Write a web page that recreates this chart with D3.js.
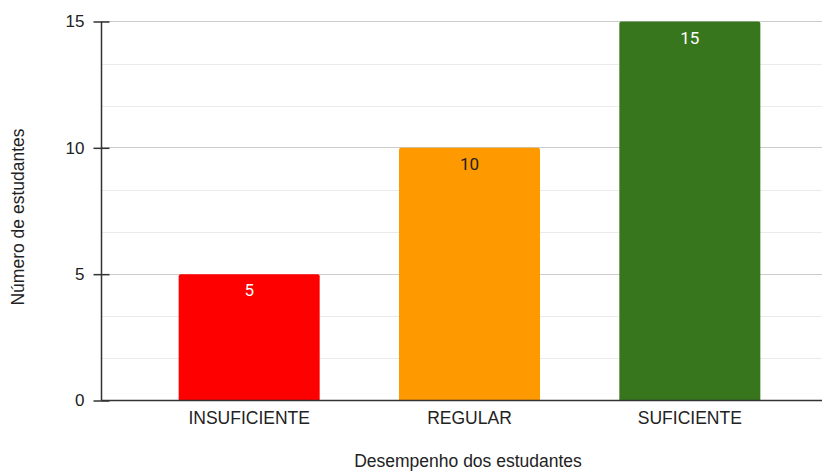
<!DOCTYPE html>
<html>
<head>
<meta charset="utf-8">
<script src="https://cdn.jsdelivr.net/npm/d3@7"></script>
<style>
  html, body { margin: 0; padding: 0; background: #fff; }
  svg { display: block; }
</style>
</head>
<body>
<svg id="chart" width="822" height="472"></svg>
<script>
// Student performance groups and how many students fall in each
const categories = ["INSUFICIENTE", "REGULAR", "SUFICIENTE"];
const counts = [5, 10, 15];
const barColors = ["#ff0000", "#ff9900", "#38761d"];
const labelColors = ["#ffffff", "#222222", "#ffffff"];
const yTicks = [0, 5, 10, 15];
const yMinorTicks = [5 / 3, 10 / 3, 20 / 3, 25 / 3, 35 / 3, 40 / 3];
const xTitle = "Desempenho dos estudantes";
const yTitle = "Número de estudantes";

const svg = d3.select("#chart");
const W = 822;
const axisX = 101.5;
const baseY = 400.5;
const textFont = "'Liberation Sans', Arial, sans-serif";

const x = d3.scaleBand()
  .domain(categories)
  .range([139, 800])
  .paddingInner(0.36)
  .paddingOuter(0.18);

const y = d3.scaleLinear()
  .domain([0, 15])
  .range([baseY, 21.5]);

// minor gridlines
svg.append("g")
  .selectAll("line")
  .data(yMinorTicks)
  .join("line")
  .attr("x1", axisX).attr("x2", W)
  .attr("y1", d => Math.round(y(d)) + 0.5)
  .attr("y2", d => Math.round(y(d)) + 0.5)
  .attr("stroke", "#ebebeb").attr("stroke-width", 1);

// major gridlines
svg.append("g")
  .selectAll("line")
  .data(yTicks.filter(d => d > 0))
  .join("line")
  .attr("x1", axisX).attr("x2", W)
  .attr("y1", d => Math.round(y(d) - 0.5) + 0.5)
  .attr("y2", d => Math.round(y(d) - 0.5) + 0.5)
  .attr("stroke", "#cccccc").attr("stroke-width", 1);

// bars
const bars = svg.append("g");
bars.selectAll("path")
  .data(categories)
  .join("path")
  .attr("fill", (d, i) => barColors[i])
  .attr("d", (d, i) => {
    const x0 = x(d), w = x.bandwidth();
    const y0 = y(counts[i]), h = baseY - y0;
    const r = 2;
    return `M${x0},${y0 + h} V${y0 + r} Q${x0},${y0} ${x0 + r},${y0} H${x0 + w - r} Q${x0 + w},${y0} ${x0 + w},${y0 + r} V${y0 + h} Z`;
  });

// value labels inside the bars
bars.selectAll("text")
  .data(categories)
  .join("text")
  .attr("x", d => x(d) + x.bandwidth() / 2)
  .attr("y", (d, i) => y(counts[i]) + 22)
  .attr("text-anchor", "middle")
  .attr("font-family", "Roboto, 'Liberation Sans', sans-serif")
  .attr("font-size", 17)
  .attr("fill", (d, i) => labelColors[i])
  .text((d, i) => counts[i]);

// y axis
const yAxis = d3.axisLeft(y)
  .tickValues(yTicks)
  .tickSize(8)
  .tickPadding(9)
  .tickFormat(d3.format("d"));
const gy = svg.append("g")
  .attr("transform", `translate(${axisX},0)`)
  .call(yAxis);
gy.select(".domain").attr("stroke", "#333").attr("stroke-width", 1.5)
  .attr("d", `M0,${y(15)}V${baseY}`);
gy.selectAll(".tick line").attr("stroke", "#333").attr("stroke-width", 1.5)
  .attr("x1", -8).attr("x2", 8);
gy.selectAll(".tick text")
  .attr("font-family", textFont)
  .attr("font-size", 17)
  .attr("fill", "#222");

// baseline
svg.append("line")
  .attr("x1", axisX).attr("x2", W)
  .attr("y1", baseY).attr("y2", baseY)
  .attr("stroke", "#333").attr("stroke-width", 1.5);

// category labels
svg.append("g")
  .selectAll("text")
  .data(categories)
  .join("text")
  .attr("x", d => x(d) + x.bandwidth() / 2)
  .attr("y", 424)
  .attr("text-anchor", "middle")
  .attr("font-family", textFont)
  .attr("font-size", 17.5)
  .attr("fill", "#222")
  .text(d => d);

// axis titles
svg.append("text")
  .attr("x", 468).attr("y", 467)
  .attr("text-anchor", "middle")
  .attr("font-family", textFont)
  .attr("font-size", 17.5)
  .attr("fill", "#222")
  .text(xTitle);

svg.append("text")
  .attr("transform", "translate(24,217) rotate(-90)")
  .attr("text-anchor", "middle")
  .attr("font-family", textFont)
  .attr("font-size", 17.5)
  .attr("fill", "#222")
  .text(yTitle);
</script>
</body>
</html>
